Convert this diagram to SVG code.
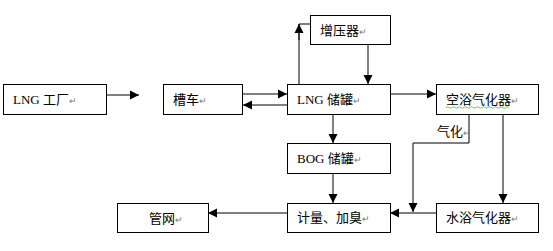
<svg xmlns="http://www.w3.org/2000/svg" width="553" height="251" viewBox="0 0 553 251">
<style>
.box{fill:#fff;stroke:#000;stroke-width:1}
.t{font-family:"Liberation Serif","Noto Sans CJK SC",serif;font-size:13px;fill:#000}
.pm{font-size:9px;fill:#777}
.c{fill:none;stroke:#000;stroke-width:1}
</style>
<defs>
<marker id="a" markerWidth="10" markerHeight="10" refX="9" refY="5" orient="auto" markerUnits="userSpaceOnUse">
<path d="M0,0.5 L9,5 L0,9.5 Z" fill="#000"/>
</marker>
</defs>
<rect width="553" height="251" fill="#fff"/>
<g id="connectors">
<path class="c" d="M106,95 H139" marker-end="url(#a)"/>
<path class="c" d="M242,94 H287" marker-end="url(#a)"/>
<path class="c" d="M287,105 H243" marker-end="url(#a)"/>
<path class="c" d="M299,84 V24 H310"/>
<path class="c" d="M299,40 V24" marker-end="url(#a)"/>
<path class="c" d="M368,44 V84" marker-end="url(#a)"/>
<path class="c" d="M390,94 H436" marker-end="url(#a)"/>
<path class="c" d="M333,114 V143" marker-end="url(#a)"/>
<path class="c" d="M333,173 V203" marker-end="url(#a)"/>
<path class="c" d="M469,114 V143 H413 V212" marker-end="url(#a)"/>
<path class="c" d="M503,114 V203" marker-end="url(#a)"/>
<path class="c" d="M436,213 H390" marker-end="url(#a)"/>
<path class="c" d="M287,213 H208" marker-end="url(#a)"/>
</g>
<g id="lng-plant">
<rect class="box" x="3.5" y="84.5" width="103" height="30"/>
<text class="t" x="13" y="104">LNG 工厂<tspan class="pm">↵</tspan></text>
</g>
<g id="tanker">
<rect class="box" x="163.5" y="84.5" width="79" height="30"/>
<text class="t" x="173" y="104">槽车<tspan class="pm">↵</tspan></text>
</g>
<g id="booster">
<rect class="box" x="310.5" y="15.5" width="80" height="29"/>
<text class="t" x="320" y="35">增压器<tspan class="pm">↵</tspan></text>
</g>
<g id="lng-tank">
<rect class="box" x="287.5" y="84.5" width="103" height="30"/>
<text class="t" x="297" y="104">LNG 储罐<tspan class="pm">↵</tspan></text>
</g>
<g id="air-vaporizer">
<rect class="box" x="436.5" y="84.5" width="102" height="30"/>
<text class="t" x="446" y="104">空浴气化器<tspan class="pm">↵</tspan></text>
<path d="M446,107.5 q1.5,-1.5 3,0 t3,0 t3,0 t3,0 t3,0 t3,0 t3,0 t3,0 t3,0 t3,0 t3,0 t3,0 t3,0 t3,0 t3,0 t3,0 t3,0 t3,0 t3,0 t3,0 t3,0" fill="none" stroke="#3a3" stroke-width="0.7"/>
</g>
<g id="label-vaporize">
<text class="t" x="437" y="136">气化<tspan class="pm">↵</tspan></text>
</g>
<g id="bog-tank">
<rect class="box" x="287.5" y="143.5" width="103" height="30"/>
<text class="t" x="297" y="163">BOG 储罐<tspan class="pm">↵</tspan></text>
</g>
<g id="metering">
<rect class="box" x="287.5" y="203.5" width="103" height="29"/>
<text class="t" x="297" y="222">计量、加臭<tspan class="pm">↵</tspan></text>
</g>
<g id="water-vaporizer">
<rect class="box" x="436.5" y="203.5" width="102" height="29"/>
<text class="t" x="446" y="222">水浴气化器<tspan class="pm">↵</tspan></text>
</g>
<g id="pipe-network">
<rect class="box" x="117.5" y="203.5" width="91" height="29"/>
<text class="t" x="149" y="223">管网<tspan class="pm">↵</tspan></text>
</g>
</svg>
